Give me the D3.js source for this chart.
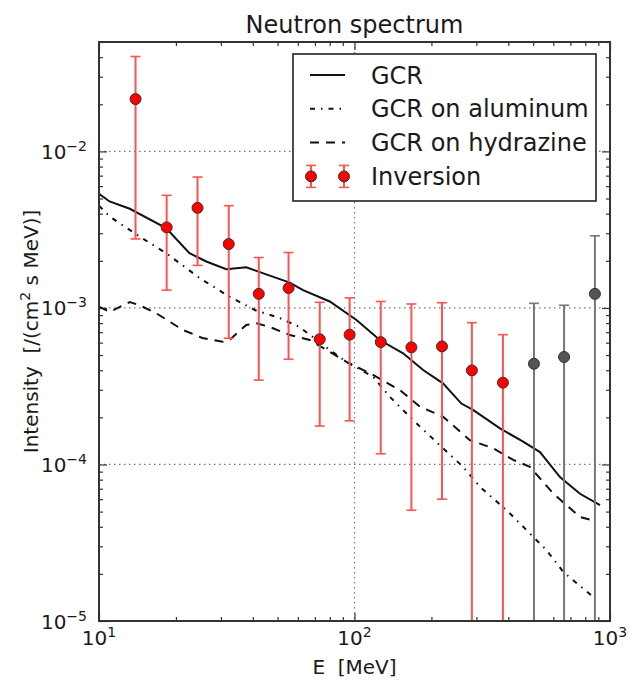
<!DOCTYPE html>
<html>
<head>
<meta charset="utf-8">
<script src="https://cdn.jsdelivr.net/npm/d3@7"></script>
<style>
  body { margin: 0; background: #fff; }
  text { font-family: "DejaVu Sans", sans-serif; fill: #1a1a1a; }
</style>
</head>
<body>
<div id="chart"></div>
<script>
// GCR model spectra (E in MeV, intensity in /(cm2 s MeV))
const gcrE = [10, 11.0, 13.2, 18.3, 22.6, 26.3, 31.5, 37.7, 43.7, 55.8, 62.9, 80.0, 101.8, 125.6, 155, 185.6, 222, 262, 291, 371, 457, 532, 637, 763, 914];
const gcrI = [5.36e-3, 4.79e-3, 4.30e-3, 3.24e-3, 2.24e-3, 1.98e-3, 1.77e-3, 1.82e-3, 1.67e-3, 1.45e-3, 1.30e-3, 1.10e-3, 8.38e-4, 6.24e-4, 5.13e-4, 4.01e-4, 3.30e-4, 2.45e-4, 2.23e-4, 1.70e-4, 1.40e-4, 1.20e-4, 8.3e-5, 6.5e-5, 5.5e-5];

const alE = [10, 11.0, 14.4, 18.3, 24.8, 32.4, 41.3, 50.9, 61.0, 77.6, 93.0, 118.2, 137.4, 169.6, 222, 266, 310, 394, 472, 565, 656, 786, 873];
const alI = [4.5e-3, 3.84e-3, 2.86e-3, 2.24e-3, 1.55e-3, 1.18e-3, 9.6e-4, 8.63e-4, 7.55e-4, 5.59e-4, 4.53e-4, 3.63e-4, 2.71e-4, 1.92e-4, 1.27e-4, 9.66e-5, 7.19e-5, 5.1e-5, 3.8e-5, 2.83e-5, 2.06e-5, 1.61e-5, 1.39e-5];

const hyE = [10, 11.0, 13.2, 14.4, 16.75, 21.3, 25.4, 30.5, 32.4, 37.7, 41.3, 46.6, 55.8, 66.8, 93.0, 118.2, 150.4, 180.2, 222, 282.8, 349, 418, 486, 600, 763, 881];
const hyI = [1.02e-3, 9.43e-4, 1.09e-3, 1.04e-3, 9.25e-4, 7.23e-4, 6.43e-4, 6.08e-4, 6.24e-4, 7.78e-4, 7.98e-4, 7.56e-4, 6.72e-4, 6.24e-4, 4.53e-4, 3.73e-4, 2.99e-4, 2.34e-4, 2.02e-4, 1.43e-4, 1.27e-4, 1.07e-4, 9.66e-5, 6.52e-5, 4.62e-5, 4.34e-5];

// inversion points + error bars (0 = bar runs off the bottom)
const invE  = [13.9, 18.4, 24.3, 32.2, 42.2, 55.2, 73.1, 95.7, 126.7, 167, 220, 288, 381, 504, 661, 873];
const invI  = [0.0216, 3.27e-3, 4.36e-3, 2.56e-3, 1.23e-3, 1.34e-3, 6.31e-4, 6.75e-4, 6.05e-4, 5.6e-4, 5.68e-4, 3.99e-4, 3.33e-4, 4.4e-4, 4.86e-4, 1.23e-3];
const invHi = [0.0404, 5.24e-3, 6.86e-3, 4.5e-3, 2.1e-3, 2.26e-3, 1.086e-3, 1.16e-3, 1.1e-3, 1.06e-3, 1.08e-3, 8.05e-4, 6.75e-4, 1.07e-3, 1.04e-3, 2.89e-3];
const invLo = [2.76e-3, 1.3e-3, 1.87e-3, 6.4e-4, 3.46e-4, 4.7e-4, 1.76e-4, 1.9e-4, 1.17e-4, 5.1e-5, 6.0e-5, 0, 0, 0, 0, 0];
const invGray = [0, 0, 0, 0, 0, 0, 0, 0, 0, 0, 0, 0, 0, 1, 1, 1];

const legendLabels = ["GCR", "GCR on aluminum", "GCR on hydrazine", "Inversion"];
const xMajor = [10, 100, 1000], xExp = [1, 2, 3];
const yMajor = [1e-5, 1e-4, 1e-3, 1e-2], yExp = [-5, -4, -3, -2];

const margin = {top: 42, right: 26, bottom: 74, left: 99},
  width = 636 - margin.left - margin.right,
  height = 695 - margin.top - margin.bottom;

const svg = d3.select("#chart").append("svg")
  .attr("width", 636).attr("height", 695);

const g = svg.append("g")
  .attr("transform", "translate(" + margin.left + "," + margin.top + ")");

const x = d3.scaleLog().domain([10, 1000]).range([0, width]);
const y = d3.scaleLog().domain([1e-5, 0.05]).range([height, 0]);

g.append("clipPath").attr("id", "clip")
  .append("rect").attr("width", width).attr("height", height);

// dotted grid at the major decades
g.selectAll(".gx").data(xMajor.slice(1, -1)).enter().append("line")
  .attr("x1", d => x(d)).attr("x2", d => x(d))
  .attr("y1", 0).attr("y2", height)
  .attr("stroke", "#777").attr("stroke-width", 1.2).attr("stroke-dasharray", "1.5,3.5");
g.selectAll(".gy").data(yMajor.slice(1)).enter().append("line")
  .attr("x1", 0).attr("x2", width)
  .attr("y1", d => y(d)).attr("y2", d => y(d))
  .attr("stroke", "#777").attr("stroke-width", 1.2).attr("stroke-dasharray", "1.5,3.5");

// ticks (inside, all four sides)
const isMajor = v => Math.abs(Math.log10(v) - Math.round(Math.log10(v))) < 1e-9;
const xMinor = x.ticks().filter(v => !isMajor(v));
const yMinor = y.ticks().filter(v => !isMajor(v));

function tickAxis(axis, transform) {
  const a = g.append("g").attr("transform", transform).call(axis);
  a.select(".domain").remove();
  a.selectAll("line").attr("stroke", "#333").attr("stroke-width", 1.2);
  a.selectAll("text").remove();
}
[[xMinor, 4], [xMajor, 8]].forEach(([vals, len]) => {
  tickAxis(d3.axisBottom(x).tickValues(vals).tickSize(-len), "translate(0," + height + ")");
  tickAxis(d3.axisTop(x).tickValues(vals).tickSize(-len), "translate(0,0)");
});
[[yMinor, 4], [yMajor, 8]].forEach(([vals, len]) => {
  tickAxis(d3.axisLeft(y).tickValues(vals).tickSize(-len), "translate(0,0)");
  tickAxis(d3.axisRight(y).tickValues(vals).tickSize(-len), "translate(" + width + ",0)");
});

// model lines
const line = d3.line().x(d => x(d[0])).y(d => y(d[1]));
const plot = g.append("g").attr("clip-path", "url(#clip)");

plot.append("path").datum(d3.zip(gcrE, gcrI))
  .attr("d", line).attr("fill", "none")
  .attr("stroke", "#111").attr("stroke-width", 2);
plot.append("path").datum(d3.zip(alE, alI))
  .attr("d", line).attr("fill", "none")
  .attr("stroke", "#111").attr("stroke-width", 2)
  .attr("stroke-dasharray", "5,6,1.5,6");
plot.append("path").datum(d3.zip(hyE, hyI))
  .attr("d", line).attr("fill", "none")
  .attr("stroke", "#111").attr("stroke-width", 2)
  .attr("stroke-dasharray", "9,7");

// inversion error bars + points
const pts = invE.map((e, i) => ({e: e, v: invI[i], hi: invHi[i], lo: invLo[i], gray: invGray[i]}));
const barCol = d => d.gray ? "#777" : "#ff5252";
const loY = d => d.lo > 0 ? y(d.lo) : y(y.domain()[0]) + 5;

const bars = plot.selectAll(".bar").data(pts).enter().append("g");
bars.append("line")
  .attr("x1", d => x(d.e)).attr("x2", d => x(d.e))
  .attr("y1", d => y(d.hi)).attr("y2", loY)
  .attr("stroke", barCol).attr("stroke-width", 2);
bars.append("line")
  .attr("x1", d => x(d.e) - 5).attr("x2", d => x(d.e) + 5)
  .attr("y1", d => y(d.hi)).attr("y2", d => y(d.hi))
  .attr("stroke", barCol).attr("stroke-width", 1.6);
bars.filter(d => d.lo > 0).append("line")
  .attr("x1", d => x(d.e) - 5).attr("x2", d => x(d.e) + 5)
  .attr("y1", d => y(d.lo)).attr("y2", d => y(d.lo))
  .attr("stroke", barCol).attr("stroke-width", 1.6);

plot.selectAll(".dot").data(pts).enter().append("circle")
  .attr("cx", d => x(d.e)).attr("cy", d => y(d.v)).attr("r", 5.5)
  .attr("fill", d => d.gray ? "#555" : "#f00")
  .attr("stroke", "#333").attr("stroke-width", 1);

// frame
g.append("rect").attr("width", width).attr("height", height)
  .attr("fill", "none").attr("stroke", "#333").attr("stroke-width", 2);

// tick labels
g.selectAll(".xl").data(xMajor).enter().append("text")
  .attr("x", (d, i) => x(d)).attr("y", height + 24)
  .attr("text-anchor", "middle").style("font-size", "20px")
  .each(function(d, i) {
    const t = d3.select(this);
    t.append("tspan").text("10");
    t.append("tspan").attr("dy", -8).style("font-size", "14px").text(xExp[i]);
  });
g.selectAll(".yl").data(yMajor).enter().append("text")
  .attr("x", -12).attr("y", d => y(d) + 7.5)
  .attr("text-anchor", "end").style("font-size", "20px")
  .each(function(d, i) {
    const t = d3.select(this);
    t.append("tspan").text("10");
    t.append("tspan").attr("dy", -8).style("font-size", "14px").text(String(yExp[i]).replace("-", "\u2212"));
  });

// title + axis labels
svg.append("text").attr("x", margin.left + width / 2).attr("y", 33)
  .attr("text-anchor", "middle").style("font-size", "24px").text("Neutron spectrum");
svg.append("text").attr("x", margin.left + width / 2).attr("y", 674)
  .attr("text-anchor", "middle").style("font-size", "20px").style("white-space", "pre")
  .attr("xml:space", "preserve").text("E  [MeV]");
const yl = svg.append("text")
  .attr("transform", "translate(38," + (margin.top + height / 2) + ") rotate(-90)")
  .attr("text-anchor", "middle").style("font-size", "20px").attr("xml:space", "preserve");
yl.append("tspan").text("Intensity  [/(cm");
yl.append("tspan").attr("dy", -8).style("font-size", "14px").text("2");
yl.append("tspan").attr("dy", 8).text(" s MeV)]");

// legend
const lg = g.append("g").attr("transform", "translate(" + (width - 14 - 303) + ",12)");
lg.append("rect").attr("width", 303).attr("height", 147)
  .attr("fill", "#fff").attr("stroke", "#222").attr("stroke-width", 1.6);
const rowY = i => 21 + i * 33.8;
const dashes = [null, "5,6,1.5,6", "9,7"];
dashes.forEach((da, i) => {
  lg.append("line").attr("x1", 17).attr("x2", 52)
    .attr("y1", rowY(i)).attr("y2", rowY(i))
    .attr("stroke", "#111").attr("stroke-width", 2)
    .attr("stroke-dasharray", da);
});
[18, 51].forEach(cx => {
  const ry = rowY(3);
  lg.append("line").attr("x1", cx).attr("x2", cx).attr("y1", ry - 11).attr("y2", ry + 11)
    .attr("stroke", "#ff5252").attr("stroke-width", 2);
  [ry - 11, ry + 11].forEach(cy => lg.append("line")
    .attr("x1", cx - 5).attr("x2", cx + 5).attr("y1", cy).attr("y2", cy)
    .attr("stroke", "#ff5252").attr("stroke-width", 1.6));
  lg.append("circle").attr("cx", cx).attr("cy", ry).attr("r", 5.5)
    .attr("fill", "#f00").attr("stroke", "#333");
});
lg.selectAll(".lt").data(legendLabels).enter().append("text")
  .attr("x", 78).attr("y", (d, i) => rowY(i) + 8.5)
  .style("font-size", "24px").text(d => d);
</script>
</body>
</html>
